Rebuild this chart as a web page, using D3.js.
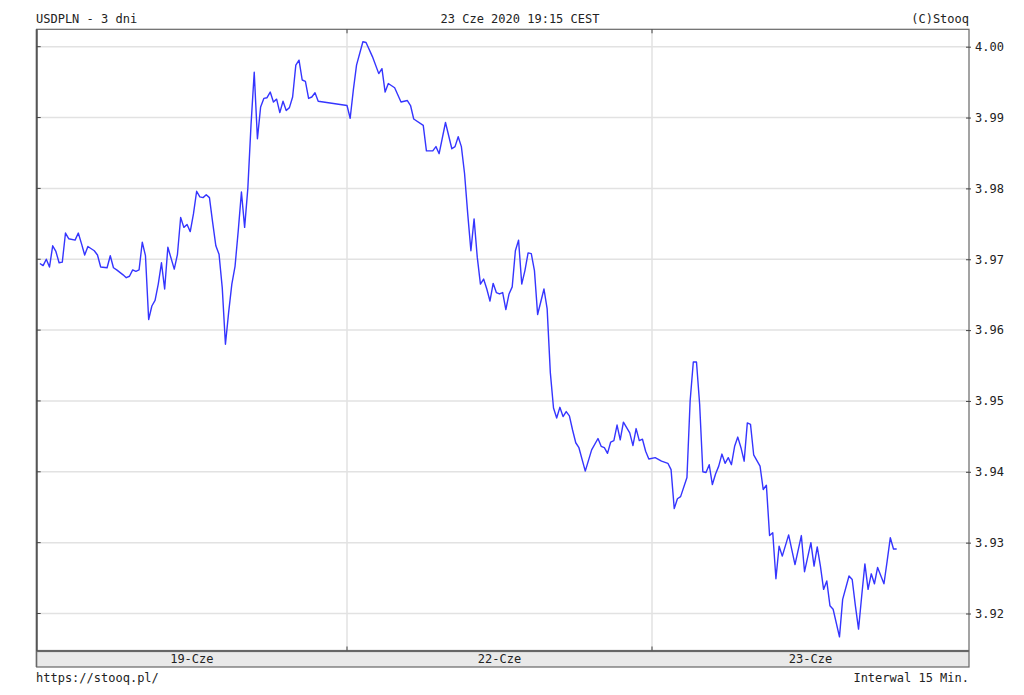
<!DOCTYPE html>
<html>
<head>
<meta charset="utf-8">
<script src="https://cdn.jsdelivr.net/npm/d3@7"></script>
<style>
  html, body { margin: 0; padding: 0; background: #fff; }
  svg text { font-family: "DejaVu Sans Mono", monospace; font-size: 12px; fill: #222; }
</style>
</head>
<body>
<div id="chart"></div>
<script>
// USDPLN, 15-minute quotes over three sessions
const dayLabels = ['19-Cze', '22-Cze', '23-Cze'];

const times19 = ['00:00','00:15','00:30','00:45','01:00','01:15','01:30','01:45','02:00','02:15','02:45','03:00',
  '03:15','03:30','03:45','04:15','04:30','04:45','05:15','05:30','05:45','06:00','06:30','06:45','07:00','07:15',
  '07:30','07:45','08:00','08:15','08:30','08:45','09:00','09:15','09:30','09:45','10:00','10:30','10:45','11:00',
  '11:15','11:30','11:45','12:00','12:15','12:30','12:45','13:00','13:15','13:30','13:45','14:00','14:15','14:30',
  '14:45','15:00','15:15','15:30','15:45','16:00','16:15','16:30','16:45','17:00','17:15','17:30','17:45','18:00',
  '18:15','18:30','18:45','19:00','19:15','19:30','19:45','20:00','20:15','20:30','20:45','21:00','21:15','21:30','21:45'];
const values19 = [3.9694,3.9691,3.9700,3.9689,3.9719,3.9711,3.9695,3.9696,3.9737,3.9729,3.9727,3.9737,
  3.9722,3.9706,3.9718,3.9712,3.9706,3.9689,3.9688,3.9705,3.9688,3.9685,3.9678,3.9674,3.9676,3.9685,
  3.9683,3.9685,3.9724,3.9705,3.9615,3.9634,3.9642,3.9665,3.9695,3.9658,3.9717,3.9686,3.9707,3.9759,
  3.9745,3.9749,3.9739,3.9764,3.9796,3.9788,3.9787,3.9791,3.9787,3.9752,3.9719,3.9707,3.9660,3.9580,
  3.9625,3.9665,3.9690,3.9740,3.9795,3.9745,3.9800,3.9890,3.9964,3.9870,3.9915,3.9927,3.9928,3.9936,
  3.9922,3.9926,3.9907,3.9923,3.9910,3.9914,3.9929,3.9974,3.9981,3.9953,3.9951,3.9927,3.9929,3.9935,3.9923];

const times22 = ['00:00','00:15','00:30','00:45','01:15','01:30','02:00','02:30','02:45','03:00','03:15','03:45',
  '04:15','04:45','05:00','05:15','06:00','06:15','06:45','07:00','07:15','07:45','08:15','08:30','08:45','09:00',
  '09:15','09:30','09:45','10:00','10:15','10:30','10:45','11:00','11:15','11:30','11:45','12:00','12:15','12:30',
  '12:45','13:00','13:15','13:30','13:45','14:00','14:15','14:30','14:45','15:00','15:30','15:45','16:00','16:15',
  '16:30','16:45','17:00','17:15','17:30','17:45','18:00','18:15','18:45','19:15','19:45','20:00','20:15','20:30',
  '20:45','21:00','21:15','21:30','21:45','22:15','22:30','22:45','23:00','23:15','23:30','23:45'];
const values22 = [3.9917,3.9899,3.9939,3.9974,4.0007,4.0006,3.9986,3.9962,3.9969,3.9936,3.9948,3.9942,
  3.9922,3.9924,3.9917,3.9898,3.9889,3.9853,3.9853,3.9859,3.9849,3.9893,3.9856,3.9859,3.9873,3.9859,
  3.9821,3.9764,3.9712,3.9757,3.9703,3.9665,3.9672,3.9658,3.9641,3.9666,3.9653,3.9651,3.9653,3.9629,
  3.9651,3.9661,3.9712,3.9727,3.9665,3.9684,3.9709,3.9708,3.9684,3.9622,3.9658,3.9630,3.9540,3.9490,
  3.9476,3.9491,3.9478,3.9485,3.9479,3.9459,3.9441,3.9434,3.9401,3.9431,3.9447,3.9436,3.9434,3.9426,
  3.9442,3.9444,3.9466,3.9445,3.9470,3.9455,3.9437,3.9461,3.9444,3.9446,3.9429,3.9418];

const times23 = ['00:15','00:45','01:15','01:30','01:45','02:00','02:15','02:45','03:00','03:15','03:30','03:45',
  '04:00','04:15','04:30','04:45','05:00','05:15','05:30','05:45','06:00','06:15','06:30','06:45','07:00','07:15',
  '07:30','07:45','08:00','08:30','08:45','09:00','09:15','09:30','09:45','10:00','10:15','10:45','11:15','11:45',
  '12:00','12:30','12:45','13:00','13:15','13:30','13:45','14:00','14:15','14:45','15:00','15:30','15:45','16:00',
  '16:15','16:30','16:45','17:00','17:15','17:30','17:45','18:15','18:30','18:45','19:00','19:15'];
const values23 = [3.9420,3.9415,3.9412,3.9403,3.9348,3.9362,3.9365,3.9392,3.9500,3.9555,3.9555,3.9495,
  3.9400,3.9399,3.9410,3.9382,3.9397,3.9408,3.9425,3.9412,3.9420,3.9410,3.9436,3.9449,3.9434,3.9415,
  3.9469,3.9467,3.9424,3.9408,3.9375,3.9381,3.9310,3.9314,3.9249,3.9295,3.9281,3.9311,3.9269,3.9310,
  3.9259,3.9300,3.9267,3.9294,3.9267,3.9234,3.9246,3.9211,3.9206,3.9167,3.9220,3.9253,3.9248,3.9211,
  3.9178,3.9225,3.9270,3.9234,3.9256,3.9242,3.9265,3.9242,3.9274,3.9307,3.9291,3.9291];

const width = 1024, height = 695;
const plot = { left: 36.7, right: 969, top: 29.3, bottom: 650.5 };
const bandBottom = 667;

// hours on a compressed session axis: each shown day takes 24h
function toHours(dayIndex, t) {
  const [hh, mm] = t.split(':').map(Number);
  return dayIndex * 24 + hh + mm / 60;
}

const series = [];
[[times19, values19], [times22, values22], [times23, values23]].forEach(([ts, vs], i) => {
  ts.forEach((t, j) => series.push({ h: toHours(i, t), v: vs[j] }));
});

const x = d3.scaleLinear()
  .domain([-0.25, 24, 48, 72.94])
  .range([plot.left, 347, 652, plot.right]);

const y = d3.scaleLinear()
  .domain([3.92, 4.00])
  .range([613.5, 46.7]);

const svg = d3.select('#chart').append('svg')
  .attr('width', width)
  .attr('height', height);

// horizontal grid
const yTicks = y.ticks(8);
svg.append('g').selectAll('line')
  .data(yTicks)
  .enter().append('line')
  .attr('x1', plot.left).attr('x2', plot.right)
  .attr('y1', d => y(d)).attr('y2', d => y(d))
  .attr('stroke', '#e2e2e2')
  .attr('stroke-width', 1.5);

// day boundaries
const dayBounds = [24, 48];
svg.append('g').selectAll('line')
  .data(dayBounds)
  .enter().append('line')
  .attr('x1', d => x(d)).attr('x2', d => x(d))
  .attr('y1', plot.top).attr('y2', plot.bottom)
  .attr('stroke', '#e2e2e2')
  .attr('stroke-width', 1.5);

// price line
const line = d3.line()
  .x(d => x(d.h))
  .y(d => y(d.v));

svg.append('path')
  .datum(series)
  .attr('fill', 'none')
  .attr('stroke', '#3535ff')
  .attr('stroke-width', 1.4)
  .attr('stroke-linejoin', 'round')
  .attr('d', line);

// frame
svg.append('rect')
  .attr('x', plot.left).attr('y', plot.top)
  .attr('width', plot.right - plot.left)
  .attr('height', plot.bottom - plot.top)
  .attr('fill', 'none')
  .attr('stroke', '#666')
  .attr('stroke-width', 1.2);

svg.append('line')
  .attr('x1', plot.left).attr('x2', plot.left)
  .attr('y1', plot.top).attr('y2', bandBottom)
  .attr('stroke', '#555')
  .attr('stroke-width', 2);

// right axis with labels
const yAxis = d3.axisRight(y)
  .tickValues(yTicks)
  .tickSize(5)
  .tickPadding(4)
  .tickFormat(d3.format('.2f'));

const yAxisG = svg.append('g')
  .attr('transform', `translate(${plot.right - 3}, 0)`)
  .call(yAxis);
yAxisG.select('.domain').remove();
yAxisG.selectAll('line').attr('stroke', '#444');
yAxisG.selectAll('text')
  .attr('fill', '#222')
  .style('font-family', '"DejaVu Sans Mono", monospace')
  .style('font-size', '12px');

// small ticks inside left border
svg.append('g').selectAll('line')
  .data(yTicks)
  .enter().append('line')
  .attr('x1', plot.left).attr('x2', plot.left + 4)
  .attr('y1', d => y(d)).attr('y2', d => y(d))
  .attr('stroke', '#444');

// ticks on top and bottom at day boundaries
svg.append('g').selectAll('line')
  .data(dayBounds)
  .enter().append('line')
  .attr('x1', d => x(d)).attr('x2', d => x(d))
  .attr('y1', plot.top).attr('y2', plot.top + 4)
  .attr('stroke', '#444');

svg.append('g').selectAll('line')
  .data(dayBounds)
  .enter().append('line')
  .attr('x1', d => x(d)).attr('x2', d => x(d))
  .attr('y1', plot.bottom - 4).attr('y2', plot.bottom)
  .attr('stroke', '#444');

// date band
svg.append('rect')
  .attr('x', plot.left).attr('y', plot.bottom + 1)
  .attr('width', plot.right - plot.left)
  .attr('height', bandBottom - plot.bottom - 1)
  .attr('fill', '#e9e9e9')
  .attr('stroke', '#666')
  .attr('stroke-width', 1.2);

const edges = [x.domain()[0], ...dayBounds, x.domain()[x.domain().length - 1]];
svg.append('g').selectAll('text')
  .data(dayLabels)
  .enter().append('text')
  .attr('x', (d, i) => (x(edges[i]) + x(edges[i + 1])) / 2)
  .attr('y', 663)
  .attr('text-anchor', 'middle')
  .text(d => d);

// header
svg.append('text').attr('x', 36).attr('y', 23).text('USDPLN - 3 dni');
svg.append('text').attr('x', 520).attr('y', 23).attr('text-anchor', 'middle').text('23 Cze 2020 19:15 CEST');
svg.append('text').attr('x', plot.right).attr('y', 23).attr('text-anchor', 'end').text('(C)Stooq');

// footer
svg.append('text').attr('x', 36).attr('y', 682).text('https://stooq.pl/');
svg.append('text').attr('x', plot.right).attr('y', 682).attr('text-anchor', 'end').text('Interwal 15 Min.');
</script>
</body>
</html>
